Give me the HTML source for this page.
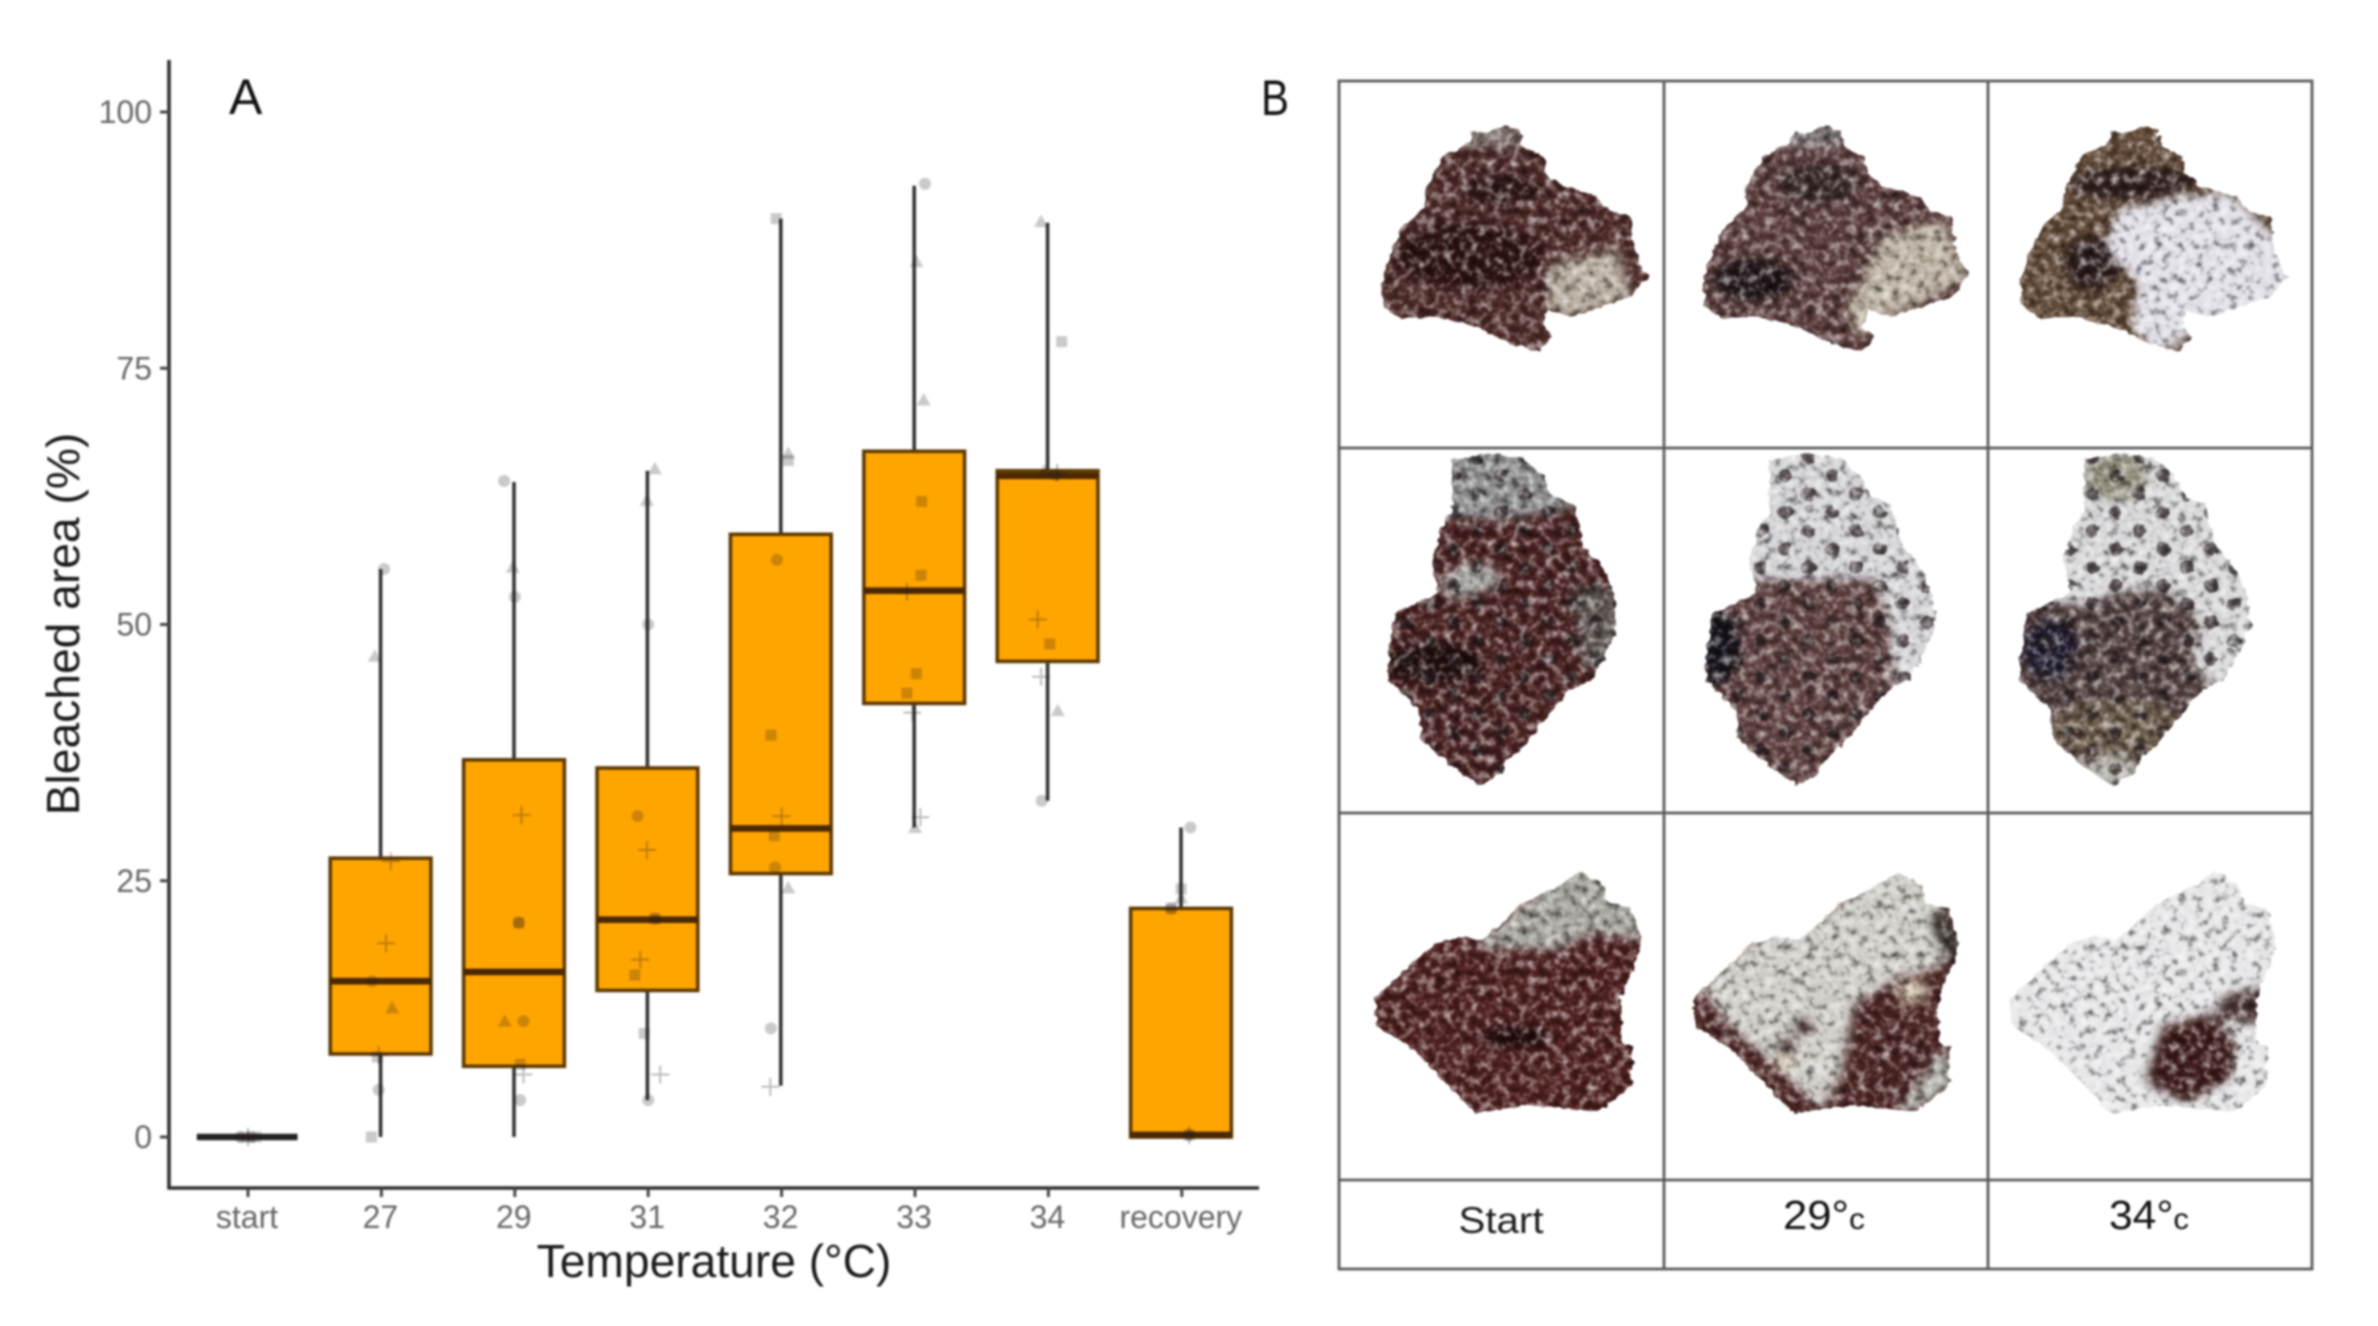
<!DOCTYPE html>
<html lang="en">
<head>
<meta charset="utf-8">
<title>Bleached area by temperature</title>
<style>
html,body{margin:0;padding:0;background:#fff;width:2378px;height:1326px;overflow:hidden}
svg{display:block;filter:blur(0.95px)}
text{font-family:"Liberation Sans",sans-serif}
</style>
</head>
<body>
<svg id="figure" xmlns="http://www.w3.org/2000/svg" width="2378" height="1326" viewBox="0 0 2378 1326">
<defs>
  <filter id="tex" x="-8%" y="-8%" width="116%" height="116%" color-interpolation-filters="sRGB">
    <feTurbulence type="fractalNoise" baseFrequency="0.08 0.04" numOctaves="2" seed="7" result="n"/>
    <feColorMatrix in="n" type="matrix" values="0.85 0 0 0 0.1  0.85 0 0 0 0.1  0.85 0 0 0 0.1  0 0 0 0 1" result="g"/>
    <feDisplacementMap in="SourceGraphic" in2="n" scale="14" xChannelSelector="R" yChannelSelector="G" result="d"/>
    <feBlend in="g" in2="d" mode="hard-light" result="b"/>
    <feComposite in="b" in2="d" operator="in"/>
  </filter>
  <filter id="soft" x="-10%" y="-10%" width="120%" height="120%" color-interpolation-filters="sRGB">
    <feGaussianBlur stdDeviation="7 14"/>
  </filter>
  <pattern id="dots" patternUnits="userSpaceOnUse" width="70" height="110">
    <ellipse cx="17" cy="27" rx="10" ry="20" fill="#2a2022" fill-opacity="0.7"/>
    <ellipse cx="52" cy="82" rx="10" ry="20" fill="#2a2022" fill-opacity="0.7"/>
  </pattern>
  <polygon id="o1" points="255,245 275,250 300,228 325,240 330,290 360,320 365,370 385,405 440,440 460,485 490,500 495,600 515,680 490,740 460,760 400,800 365,780 360,830 375,860 355,905 310,880 260,830 200,800 150,805 125,770 120,700 130,630 150,535 185,470 185,420 210,320 250,280"/>
  <polygon id="o2" points="225,90 280,70 330,85 360,140 370,195 405,225 415,300 420,350 450,420 465,490 470,590 450,680 430,750 400,780 370,850 330,950 305,990 300,1030 265,1065 225,1010 180,930 175,840 130,750 130,680 140,550 205,490 195,390 210,290 225,250 225,170"/>
  <polygon id="o3" points="415,185 450,230 455,280 490,295 505,400 490,490 475,560 475,700 490,710 490,830 440,905 340,885 260,910 235,860 170,720 115,650 110,570 150,490 200,400 235,380 270,390 330,280 385,225"/>
  <clipPath id="c11"><use href="#o1"/></clipPath>
  <clipPath id="c12"><use href="#o1" transform="translate(475 0)"/></clipPath>
  <clipPath id="c13"><use href="#o1" transform="translate(945 0)"/></clipPath>
  <clipPath id="c21"><use href="#o2"/></clipPath>
  <clipPath id="c22"><use href="#o2" transform="translate(470 0)"/></clipPath>
  <clipPath id="c23"><use href="#o2" transform="translate(935 0)"/></clipPath>
  <clipPath id="c31"><use href="#o3"/></clipPath>
  <clipPath id="c32"><use href="#o3" transform="translate(470 0)"/></clipPath>
  <clipPath id="c33"><use href="#o3" transform="translate(940 0)"/></clipPath>
</defs>

<rect width="2378" height="1326" fill="#fff"/>

<g id="chart"></g>

<text x="229" y="114" font-size="50" fill="#111">A</text>
<text x="1261" y="115" font-size="50" fill="#111" textLength="28" lengthAdjust="spacingAndGlyphs">B</text>

<g id="panel-b">
  <!-- row 1 -->
  <g transform="translate(1300 50) scale(0.676 0.3333)">
    <g filter="url(#tex)"><g clip-path="url(#c11)"><g filter="url(#soft)">
      <rect x="60" y="150" width="510" height="840" fill="#4f2c29"/>
      <ellipse cx="250" cy="620" rx="110" ry="100" fill="#2e1313"/>
      <ellipse cx="300" cy="420" rx="60" ry="40" fill="#2e1616"/>
      <polygon points="370,640 470,600 490,740 400,800 365,770" fill="#b4aa9c"/>
      <rect x="240" y="220" width="90" height="70" fill="#7b6e69"/>
    </g></g></g>
    <g filter="url(#tex)"><g clip-path="url(#c12)"><g filter="url(#soft)">
      <rect x="540" y="150" width="510" height="840" fill="#5b3d3c"/>
      <ellipse cx="670" cy="690" rx="60" ry="60" fill="#1f1518"/>
      <ellipse cx="770" cy="400" rx="60" ry="60" fill="#3a2a2a"/>
      <polygon points="860,560 950,510 990,680 880,800 830,860 810,780 840,650" fill="#b8ae9e"/>
      <rect x="715" y="220" width="90" height="70" fill="#7a7473"/>
    </g></g></g>
    <g filter="url(#tex)"><g clip-path="url(#c13)"><g filter="url(#soft)">
      <rect x="1010" y="150" width="510" height="840" fill="#614937"/>
      <ellipse cx="1170" cy="640" rx="40" ry="80" fill="#2b1c1c"/>
      <ellipse cx="1230" cy="400" rx="90" ry="50" fill="#32201f"/>
      <polygon points="1210,480 1300,440 1380,430 1470,620 1460,760 1310,860 1270,920 1230,830 1240,700 1190,600" fill="#e0dee6"/>
    </g></g></g>
  </g>
  <!-- row 2 -->
  <g transform="translate(1300 430) scale(0.676 0.3333)">
    <g filter="url(#tex)"><g clip-path="url(#c21)"><g filter="url(#soft)">
      <rect x="60" y="0" width="480" height="1140" fill="#4b2322"/>
      <polygon points="170,30 400,30 410,230 300,270 200,260" fill="#8c8c8c"/>
      <polygon points="205,470 240,400 290,410 290,470 230,510" fill="#a9a9a5"/>
      <polygon points="400,470 490,480 480,700 420,720" fill="#5d5552"/>
      <ellipse cx="200" cy="700" rx="70" ry="60" fill="#1f0c0c"/>
    </g><rect x="100" y="50" width="400" height="1040" fill="url(#dots)"/></g></g>
    <g filter="url(#tex)"><g clip-path="url(#c22)"><g filter="url(#soft)">
      <rect x="530" y="0" width="480" height="1140" fill="#5f4140"/>
      <polygon points="640,30 860,30 980,430 980,780 880,780 870,560 850,450 650,450" fill="#d2d1d5"/>
      <ellipse cx="620" cy="650" rx="30" ry="110" fill="#15131a"/>
    </g><rect x="580" y="50" width="400" height="1040" fill="url(#dots)"/></g></g>
    <g filter="url(#tex)"><g clip-path="url(#c23)"><g filter="url(#soft)">
      <rect x="1000" y="0" width="480" height="1140" fill="#534140"/>
      <polygon points="1110,30 1320,30 1450,500 1450,640 1360,780 1320,700 1330,560 1280,480 1210,480 1170,530 1100,510" fill="#d6d5d7"/>
      <ellipse cx="1205" cy="140" rx="50" ry="70" fill="#8e8a78"/>
      <ellipse cx="1210" cy="900" rx="100" ry="90" fill="#6b5a4a"/>
      <ellipse cx="1200" cy="1025" rx="40" ry="50" fill="#b9b7b0"/>
      <ellipse cx="1110" cy="660" rx="40" ry="90" fill="#1e1a2c"/>
    </g><rect x="1040" y="50" width="400" height="1040" fill="url(#dots)"/></g></g>
  </g>
  <!-- row 3 -->
  <g transform="translate(1300 810) scale(0.676 0.3333)">
    <g filter="url(#tex)"><g clip-path="url(#c31)"><g filter="url(#soft)">
      <rect x="60" y="120" width="500" height="860" fill="#4f2120"/>
      <polygon points="400,130 540,130 540,400 430,370 380,420 270,415 260,400 350,250" fill="#a3a19b"/>
      <ellipse cx="320" cy="680" rx="50" ry="30" fill="#1e0a0a"/>
    </g></g></g>
    <g filter="url(#tex)"><g clip-path="url(#c32)"><g filter="url(#soft)">
      <rect x="530" y="120" width="500" height="860" fill="#4c2624"/>
      <polygon points="880,140 960,300 950,470 890,500 820,580 800,800 770,900 700,760 630,640 590,520 680,380 800,280" fill="#cdcbc6"/>
      <polygon points="950,290 985,400 960,480 930,330" fill="#3e3530"/>
      <ellipse cx="905" cy="545" rx="22" ry="35" fill="#d5c6b0"/>
      <ellipse cx="745" cy="650" rx="15" ry="25" fill="#47302f"/>
      <ellipse cx="720" cy="710" rx="15" ry="22" fill="#3e2a29"/>
      <ellipse cx="715" cy="760" rx="18" ry="25" fill="#d8ccb6"/>
      <polygon points="930,770 960,700 965,840 900,910 890,880" fill="#a9a7a1"/>
    </g></g></g>
    <g filter="url(#tex)"><g clip-path="url(#c33)"><g filter="url(#soft)">
      <rect x="1000" y="120" width="500" height="860" fill="#e4e4e6"/>
      <polygon points="1275,650 1345,610 1385,700 1375,810 1310,880 1250,815" fill="#3f1d1b"/>
      <polygon points="1370,550 1445,525 1445,645 1380,635 1340,655" fill="#4d3736"/>
    </g></g></g>
  </g>

  <g id="photo-grid" stroke="#5a5a5a" stroke-width="2.8" fill="none">
    <rect x="1339" y="81" width="973" height="1188"/>
    <line x1="1664" y1="81" x2="1664" y2="1269"/>
    <line x1="1988" y1="81" x2="1988" y2="1269"/>
    <line x1="1339" y1="448" x2="2312" y2="448"/>
    <line x1="1339" y1="813" x2="2312" y2="813"/>
    <line x1="1339" y1="1180" x2="2312" y2="1180"/>
  </g>
  <text x="1501" y="1233" font-size="37" text-anchor="middle" fill="#1c1c1c" textLength="85" lengthAdjust="spacingAndGlyphs">Start</text>
  <text x="1824" y="1229" font-size="41" text-anchor="middle" fill="#111" textLength="82" lengthAdjust="spacingAndGlyphs">29°<tspan font-size="30">c</tspan></text>
  <text x="2149" y="1229" font-size="41" text-anchor="middle" fill="#111" textLength="80" lengthAdjust="spacingAndGlyphs">34°<tspan font-size="30">c</tspan></text>
</g>
</svg>

<script>
const categories = ["start", "27", "29", "31", "32", "33", "34", "recovery"];
const q1Values = [0, 8.1, 6.9, 14.3, 25.7, 42.3, 46.4, 0];
const medianValues = [0, 15.2, 16.1, 21.2, 30.1, 53.3, 64.5, 0.2];
const q3Values = [0, 27.2, 36.8, 36, 58.8, 66.9, 65, 22.3];
const whiskerLow = [0, 0, 0, 3.6, 5, 30.2, 32.8, 0];
const whiskerHigh = [0, 55.4, 63.9, 65, 89.6, 92.8, 89.2, 30.2];
const yTicks = [0, 25, 50, 75, 100];

// observations per category: value, horizontal jitter (fraction of a category step), marker kind
const pointValues = [
  [0, 0, 0, 0, 0, 0],
  [55.4, 46.9, 26.9, 18.9, 15.2, 12.6, 8, 7.8, 4.6, 0],
  [64, 55.6, 52.7, 31.4, 20.9, 20.9, 11.3, 11.3, 7.1, 6.1, 3.6],
  [65.2, 62.1, 50, 31.3, 28, 21.3, 21.3, 17.3, 15.8, 10.1, 6.1, 3.6],
  [89.6, 66.7, 66, 56.3, 39.2, 31.3, 29.4, 26.3, 24.3, 10.6, 4.9],
  [93, 85.4, 71.9, 62, 54.8, 53.2, 45.2, 43.3, 41.4, 31.2, 30.2],
  [89.3, 77.6, 65, 64.8, 64.6, 50.5, 48.1, 44.9, 41.6, 32.8],
  [30.2, 24.2, 23.3, 22.3, 22.3, 0.2, 0.2, 0.2]
];
const pointJitter = [
  [-0.06, -0.03, 0, 0.03, 0.06, 0],
  [0.02, -0.05, 0.07, 0.035, -0.07, 0.08, -0.02, -0.03, -0.02, -0.075],
  [-0.08, -0.015, 0, 0.05, 0.03, 0.03, -0.075, 0.065, 0.04, 0.065, 0.04],
  [0.05, -0.01, 0, -0.08, -0.01, 0.05, 0.05, -0.06, -0.1, -0.03, 0.09, 0],
  [-0.04, 0.05, 0.05, -0.035, -0.08, 0, -0.055, -0.05, 0.05, -0.08, -0.085],
  [0.075, 0.01, 0.065, 0.05, 0.045, -0.06, 0.01, -0.06, -0.02, 0.04, 0],
  [-0.055, 0.1, -0.03, 0.065, 0.05, -0.08, 0.01, -0.055, 0.07, -0.05],
  [0.065, -0.005, -0.005, -0.08, -0.08, 0.055, 0.055, 0.055]
];
const pointShapes = [
  ["c", "s", "t", "c", "s", "p"],
  ["c", "t", "p", "p", "c", "t", "p", "s", "c", "s"],
  ["c", "t", "c", "p", "s", "c", "t", "c", "s", "p", "c"],
  ["t", "t", "c", "c", "p", "c", "s", "p", "s", "s", "p", "c"],
  ["s", "t", "s", "c", "s", "p", "s", "c", "t", "c", "p"],
  ["c", "t", "t", "s", "s", "p", "s", "s", "p", "p", "t"],
  ["t", "s", "t", "p", "c", "p", "s", "p", "t", "c"],
  ["c", "s", "t", "c", "s", "c", "s", "p"]
];

const NS = "http://www.w3.org/2000/svg";
const chart = document.getElementById("chart");
const plotLeft = 169, plotRight = 1259, plotTop = 60, plotBottom = 1188;
const xBase = 248, xStep = 133.4, yZero = 1137, yUnit = 10.25;
const boxWidth = 0.755 * xStep;
const xScale = function (pos) { return xBase + xStep * pos; };
const yScale = function (v) { return yZero - yUnit * v; };

function make(tag, attrs, parent) {
  const el = document.createElementNS(NS, tag);
  Object.keys(attrs).forEach(function (k) { el.setAttribute(k, attrs[k]); });
  (parent || chart).appendChild(el);
  return el;
}

// axis lines
const yAxisLine = make("line", { x1: plotLeft, y1: plotTop, x2: plotLeft, y2: plotBottom, stroke: "#2e2e2e", "stroke-width": 3.6 });


const xAxisLine = make("line", { x1: plotLeft - 1.7, y1: plotBottom, x2: plotRight, y2: plotBottom, stroke: "#2e2e2e", "stroke-width": 3.6 });



// y ticks
yTicks.forEach(function (t) {
  const y = yScale(t);
  const tick = make("line", { x1: plotLeft - 9, y1: y, x2: plotLeft, y2: y, stroke: "#444", "stroke-width": 3 });
  
  
  const label = make("text", { x: 152, y: y + 11, "text-anchor": "end", "font-size": 32, fill: "#666" });
  
  
  label.textContent = t;
});

// categories: x ticks, whiskers, boxes, medians
categories.forEach(function (name, i) {
  const x = xScale(i);
  const tick = make("line", { x1: x, y1: plotBottom, x2: x, y2: plotBottom + 9, stroke: "#444", "stroke-width": 3 });
  
  
  const label = make("text", { x: x - 1, y: 1228, "text-anchor": "middle", "font-size": 32, fill: "#666" });
  
  
  label.textContent = name;

  const whisker = make("line", { x1: x - 0.8, y1: yScale(whiskerHigh[i]), x2: x - 0.8, y2: yScale(whiskerLow[i]), stroke: "#333", "stroke-width": 3.6 });
  
  

  const top = yScale(q3Values[i]);
  const bottom = yScale(q1Values[i]);
  const collapsed = q3Values[i] === q1Values[i];
  const box = make("rect", { x: x - boxWidth / 2 - 0.8, y: top, width: boxWidth, height: bottom - top, fill: "#ffa500", stroke: collapsed ? "#222" : "#5c3900", "stroke-width": 3.6 });
  
  

  const med = yScale(medianValues[i]);
  const median = make("line", { x1: x - boxWidth / 2 - 0.8, y1: med, x2: x + boxWidth / 2 - 0.8, y2: med, stroke: collapsed ? "#222" : "#4a2800", "stroke-width": 6.6 });
  
  
});

// jittered observations
pointValues.forEach(function (vals, i) {
  vals.forEach(function (v, j) {
    const px = xScale(i + pointJitter[i][j]);
    const py = yScale(v);
    const kind = pointShapes[i][j];
    let mark;
    if (kind === "c") {
      mark = make("circle", { cx: px, cy: py, r: 6, fill: "rgba(40,30,30,0.24)" });
    } else if (kind === "s") {
      mark = make("rect", { x: px - 5.5, y: py - 5.5, width: 11, height: 11, fill: "rgba(40,30,30,0.24)" });
    } else if (kind === "t") {
      const d = "M" + px + " " + (py - 7) + "L" + (px + 7) + " " + (py + 5.5) + "L" + (px - 7) + " " + (py + 5.5) + "Z";
      mark = make("path", { d: d, fill: "rgba(40,30,30,0.24)" });
    } else {
      const d = "M" + (px - 9) + " " + py + "H" + (px + 9) + "M" + px + " " + (py - 9) + "V" + (py + 9);
      mark = make("path", { d: d, fill: "none", stroke: "rgba(40,30,30,0.3)", "stroke-width": 2 });
    }
    
    
  });
});

// axis titles
const xTitle = make("text", { x: 714, y: 1277, "text-anchor": "middle", "font-size": 46.2, fill: "#1a1a1a" });


xTitle.textContent = "Temperature (°C)";
const yTitle = make("text", { x: 0, y: 0, transform: "translate(79 624) rotate(-90)", "text-anchor": "middle", "font-size": 46.2, fill: "#1a1a1a" });


yTitle.textContent = "Bleached area (%)";
</script>
</body>
</html>
